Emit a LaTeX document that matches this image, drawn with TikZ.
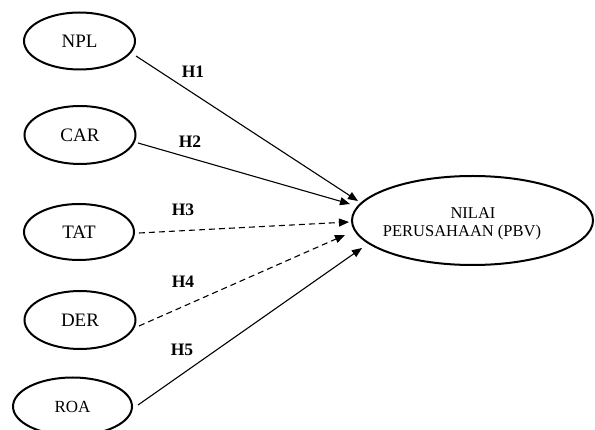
\documentclass[tikz,border=0pt]{standalone}
\usepackage{fontspec}
\setmainfont{Liberation Serif}
\usetikzlibrary{shapes.geometric,arrows.meta}
\begin{document}
\begin{tikzpicture}[x=1pt,y=-1pt,
  ell/.style={draw,ellipse,line width=2pt,inner sep=0pt,minimum width=111pt,minimum height=57pt,font=\fontsize{19}{21}\selectfont},
  conn/.style={line width=1.1pt,-{Triangle[length=10pt,width=8pt]}},
  dconn/.style={conn,dash pattern=on 6pt off 4pt},
  hlab/.style={font=\fontsize{17.5}{19}\selectfont\bfseries,inner sep=0pt},
  ptext/.style={font=\fontsize{16.5}{18}\selectfont,inner sep=0pt,anchor=base}]
\useasboundingbox (0,0) rectangle (595,430);
\node[ell] (npl) at (79.5,41) {NPL};
\node[ell,minimum height=58pt] (car) at (80,135) {CAR};
\node[ell,minimum width=110pt,minimum height=56pt] (tat) at (79,232) {TAT};
\node[ell,minimum height=58pt] (der) at (80,320) {DER};
\node[ell,minimum width=119pt,minimum height=58pt,font=\fontsize{17}{19}\selectfont] (roa) at (72.5,406.5) {ROA};
\node[ell,minimum width=241pt,minimum height=89pt] (pbv) at (472.5,220.5) {};
\node[ptext] (pbv1) at (473,219) {NILAI};
\node[ptext] (pbv2) at (462,237) {PERUSAHAAN (PBV)};
\draw[conn] ([yshift=-15pt]npl.east) -- ([xshift=7pt,yshift=19.5pt]pbv.west);
\draw[conn] ([xshift=1.5pt,yshift=-8pt]car.east) -- ([xshift=-1pt,yshift=16.5pt]pbv.west);
\draw[dconn] ([xshift=4pt,yshift=-1pt]tat.east) -- ([xshift=-2pt,yshift=-1.5pt]pbv.west);
\draw[dconn] ([xshift=2.5pt,yshift=-6pt]der.east) -- ([xshift=-6pt,yshift=-14.5pt]pbv.west);
\draw[conn] ([xshift=5pt,yshift=1.5pt]roa.east) -- ([xshift=11pt,yshift=-27.5pt]pbv.west);
\node[hlab] (h1) at (193,72) {H1};
\node[hlab] (h2) at (190,142) {H2};
\node[hlab] (h3) at (183,210) {H3};
\node[hlab] (h4) at (183,282) {H4};
\node[hlab] (h5) at (182,350) {H5};
\end{tikzpicture}
\end{document}
